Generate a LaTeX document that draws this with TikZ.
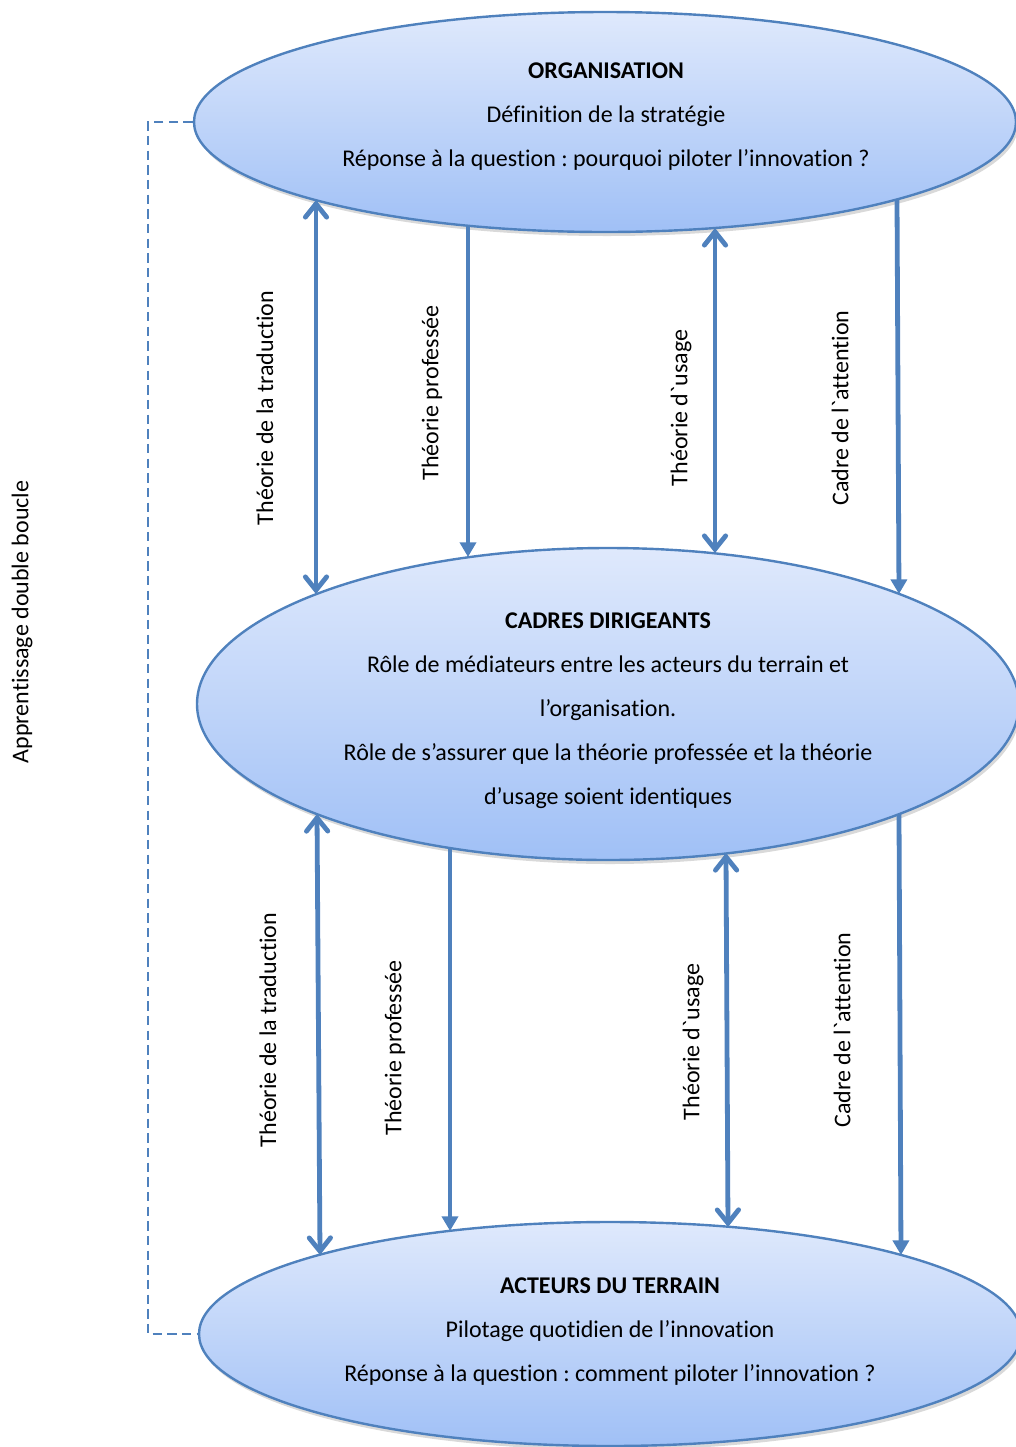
\documentclass[tikz,border=0pt]{standalone}
\usepackage{fontspec}
\setmainfont{Carlito}[Ligatures={NoCommon}]
\usetikzlibrary{shapes.geometric,arrows.meta,shadows}
\definecolor{edge}{RGB}{79,129,189}
\definecolor{topc}{RGB}{223,233,252}
\definecolor{botc}{RGB}{160,192,246}
\frenchspacing
\begin{document}
\begin{tikzpicture}[x=0.75pt,y=-0.75pt,
  txt/.style={font=\fontsize{18}{33}\selectfont, align=center, inner sep=0pt},
  bubble/.style={ellipse, draw=edge, line width=1.8pt, top color=topc, bottom color=botc,
    drop shadow={opacity=0.3, shadow xshift=1.5pt, shadow yshift=-3pt}},
  conn/.style={draw=edge, line width=3.6pt},
  both/.style={conn, {Straight Barb[length=10pt,width=16pt,line cap=round]}-{Straight Barb[length=10pt,width=16pt,line cap=round]}},
  downarr/.style={conn, -{Triangle[length=11pt,width=12pt]}},
  lab/.style={rotate=90, font=\fontsize{18}{22}\selectfont, inner sep=0pt},
  loop/.style={draw=edge, line width=1.8pt, dash pattern=on 7pt off 4pt}]
\useasboundingbox (0,0) rectangle (1016,1447);

% ellipses
\node[bubble, minimum width=616.5pt, minimum height=165pt] (org) at (605,122) {};
\node[bubble, minimum width=616.5pt, minimum height=234pt] (cad) at (608,704) {};
\node[bubble, minimum width=616.5pt, minimum height=168pt] (act) at (610,1334) {};

% texts
\node[txt] (orgt) at (606,117) {\textbf{ORGANISATION}\\Définition de la stratégie\\Réponse à la question : pourquoi piloter l’innovation ?};
\node[txt] (cadt) at (608,711) {\textbf{CADRES DIRIGEANTS}\\Rôle de médiateurs entre les acteurs du terrain et\\l’organisation.\\Rôle de s’assurer que la théorie professée et la théorie\\d’usage soient identiques};
\node[txt] (actt) at (610,1332) {\textbf{ACTEURS DU TERRAIN}\\Pilotage quotidien de l’innovation\\Réponse à la question : comment piloter l’innovation ?};

% arrow end points
\coordinate (t1a) at (316,200); \coordinate (t1b) at (316,594);
\coordinate (t2a) at (468,227); \coordinate (t2b) at (468,557);
\coordinate (t3a) at (715,228); \coordinate (t3b) at (715,553);
\coordinate (t4a) at (897,199); \coordinate (t4b) at (899,594);
\coordinate (b1a) at (317,814); \coordinate (b1b) at (320,1255);
\coordinate (b2a) at (450,848); \coordinate (b2b) at (450,1231);
\coordinate (b3a) at (726,853); \coordinate (b3b) at (728,1227);
\coordinate (b4a) at (899,814); \coordinate (b4b) at (901,1255);

\draw[both] (t1a) -- (t1b);
\draw[downarr] (t2a) -- (t2b);
\draw[both] (t3a) -- (t3b);
\draw[downarr] (t4a) -- (t4b);
\draw[both] (b1a) -- (b1b);
\draw[downarr] (b2a) -- (b2b);
\draw[both] (b3a) -- (b3b);
\draw[downarr] (b4a) -- (b4b);

% labels
\node[lab] (l1) at (265,408) {Théorie de la traduction};
\node[lab] (l2) at (432,393) {Théorie professée};
\node[lab] (l3) at (681,408) {Théorie d\textasciigrave usage};
\node[lab] (l4) at (840,408) {Cadre de l\textasciigrave attention};
\node[lab] (l5) at (268,1030) {Théorie de la traduction};
\node[lab] (l6) at (395,1048) {Théorie professée};
\node[lab] (l7) at (693,1042) {Théorie d\textasciigrave usage};
\node[lab] (l8) at (842,1030) {Cadre de l\textasciigrave attention};

% double loop
\draw[loop] (org.west) -- (148,122) -- (148,1334) -- (act.west);
\node[lab] (loopl) at (22,622) {Apprentissage double boucle};
\end{tikzpicture}
\end{document}
